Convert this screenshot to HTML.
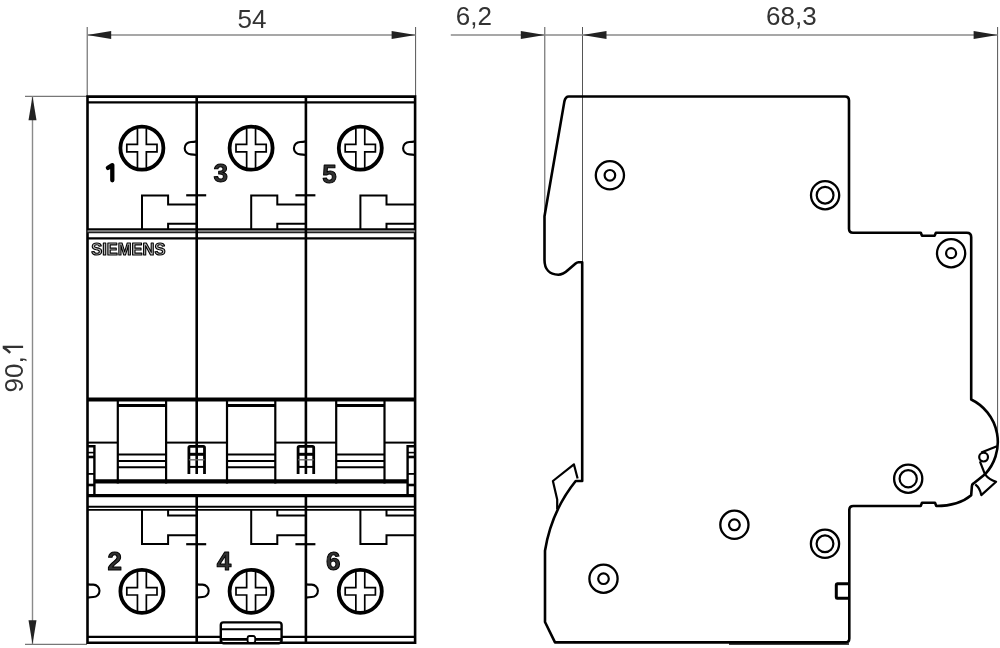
<!DOCTYPE html>
<html><head><meta charset="utf-8"><style>
html,body{margin:0;padding:0;background:#fff;width:1000px;height:648px;overflow:hidden}
svg{display:block}
svg{will-change:transform}
text{font-family:"Liberation Sans",sans-serif}
</style></head><body>
<svg width="1000" height="648" viewBox="0 0 1000 648">
<line x1="87.20" y1="27.00" x2="87.20" y2="96.00" stroke="#555" stroke-width="1" stroke-linecap="butt"/>
<line x1="415.60" y1="27.00" x2="415.60" y2="96.00" stroke="#555" stroke-width="1" stroke-linecap="butt"/>
<line x1="87.20" y1="35.00" x2="415.60" y2="35.00" stroke="#8a8a8a" stroke-width="1.4" stroke-linecap="butt"/>
<path d="M87.2,35 L111.2,31.1 L111.2,38.9 Z" fill="#222"/>
<path d="M415.6,35 L391.6,31.1 L391.6,38.9 Z" fill="#222"/>
<line x1="544.80" y1="27.00" x2="544.80" y2="216.00" stroke="#555" stroke-width="1" stroke-linecap="butt"/>
<line x1="582.50" y1="27.00" x2="582.50" y2="262.00" stroke="#555" stroke-width="1" stroke-linecap="butt"/>
<line x1="997.60" y1="27.00" x2="997.60" y2="440.00" stroke="#555" stroke-width="1" stroke-linecap="butt"/>
<line x1="450.80" y1="35.00" x2="997.60" y2="35.00" stroke="#8a8a8a" stroke-width="1.4" stroke-linecap="butt"/>
<path d="M544.8,35 L520.8,31.1 L520.8,38.9 Z" fill="#222"/>
<path d="M582.5,35 L606.5,31.1 L606.5,38.9 Z" fill="#222"/>
<path d="M997.6,35 L973.6,31.1 L973.6,38.9 Z" fill="#222"/>
<line x1="25.00" y1="96.30" x2="87.00" y2="96.30" stroke="#555" stroke-width="1" stroke-linecap="butt"/>
<line x1="25.00" y1="644.30" x2="87.00" y2="644.30" stroke="#555" stroke-width="1" stroke-linecap="butt"/>
<line x1="32.50" y1="96.30" x2="32.50" y2="644.30" stroke="#8a8a8a" stroke-width="1.4" stroke-linecap="butt"/>
<path d="M32.5,96.3 L28.5,120.3 L36.5,120.3 Z" fill="#222"/>
<path d="M32.5,644.3 L28.5,620.3 L36.5,620.3 Z" fill="#222"/>
<text x="252" y="28.4" font-size="26" fill="#333" text-anchor="middle" font-family="Liberation Sans">54</text>
<text x="473.8" y="25.2" font-size="26" fill="#333" text-anchor="middle" font-family="Liberation Sans">6,2</text>
<text x="791.4" y="25.2" font-size="26" fill="#333" text-anchor="middle" font-family="Liberation Sans">68,3</text>
<text transform="translate(23.1,392.4) rotate(-90)" x="0" y="0" font-size="26" fill="#333" font-family="Liberation Sans">90,</text>
<path d="M10.2,352.9 Q7,349.6 3.9,347.9 L3.9,346.9 H23.1" stroke="#333" stroke-width="2.4" fill="none" stroke-linejoin="miter"/>
<path d="M87.5,96.6 H415.1 V642.8 H87.5 Z" stroke="#000" stroke-width="2.6" fill="none" stroke-linejoin="miter"/>
<line x1="87.50" y1="102.30" x2="415.10" y2="102.30" stroke="#000" stroke-width="2.2" stroke-linecap="butt"/>
<line x1="87.50" y1="229.30" x2="415.10" y2="229.30" stroke="#000" stroke-width="2.2" stroke-linecap="butt"/>
<rect x="87.5" y="230.2" width="327.6" height="2" fill="#777"/>
<line x1="87.50" y1="232.70" x2="415.10" y2="232.70" stroke="#222" stroke-width="1.2" stroke-linecap="butt"/>
<line x1="87.50" y1="238.40" x2="415.10" y2="238.40" stroke="#000" stroke-width="2.4" stroke-linecap="butt"/>
<line x1="87.50" y1="399.60" x2="415.10" y2="399.60" stroke="#000" stroke-width="4.0" stroke-linecap="butt"/>
<line x1="94.30" y1="481.30" x2="407.60" y2="481.30" stroke="#000" stroke-width="4.2" stroke-linecap="butt"/>
<line x1="87.50" y1="495.60" x2="415.10" y2="495.60" stroke="#000" stroke-width="3.4" stroke-linecap="butt"/>
<line x1="87.50" y1="506.80" x2="415.10" y2="506.80" stroke="#000" stroke-width="1.9" stroke-linecap="butt"/>
<line x1="87.50" y1="509.90" x2="415.10" y2="509.90" stroke="#000" stroke-width="1.8" stroke-linecap="butt"/>
<line x1="87.50" y1="636.90" x2="415.10" y2="636.90" stroke="#000" stroke-width="2.2" stroke-linecap="butt"/>
<line x1="196.70" y1="96.00" x2="196.70" y2="474.00" stroke="#000" stroke-width="2.6" stroke-linecap="butt"/>
<line x1="196.70" y1="495.50" x2="196.70" y2="642.50" stroke="#000" stroke-width="2.6" stroke-linecap="butt"/>
<line x1="305.90" y1="96.00" x2="305.90" y2="474.00" stroke="#000" stroke-width="2.6" stroke-linecap="butt"/>
<line x1="305.90" y1="495.50" x2="305.90" y2="642.50" stroke="#000" stroke-width="2.6" stroke-linecap="butt"/>
<circle cx="141.90" cy="148.10" r="21.50" stroke="#000" stroke-width="3.8" fill="none"/>
<path d="M137.45,128.30 V144.40 H126.80 V151.80 H137.45 V167.90 M146.35,128.30 V144.40 H157.00 V151.80 H146.35 V167.90" stroke="#000" stroke-width="1.7" fill="none" stroke-linejoin="miter"/>
<path d="M196.7,141.4 Q193.7,142 190.89999999999998,142 A6.2 6.2 0 0 0 190.89999999999998,154.4 Q193.7,154.4 196.7,155" stroke="#000" stroke-width="2.1" fill="none" stroke-linejoin="miter"/>
<path d="M142.0,229 V195.6 H168.1 V204.4 H196.7" stroke="#000" stroke-width="2" fill="none" stroke-linejoin="miter"/>
<path d="M168.1,229 V223.8 H196.7" stroke="#000" stroke-width="2" fill="none" stroke-linejoin="miter"/>
<line x1="186.20" y1="195.30" x2="206.20" y2="195.30" stroke="#000" stroke-width="2.2" stroke-linecap="butt"/>
<circle cx="141.90" cy="591.30" r="21.50" stroke="#000" stroke-width="3.8" fill="none"/>
<path d="M137.45,571.50 V587.60 H126.80 V595.00 H137.45 V611.10 M146.35,571.50 V587.60 H157.00 V595.00 H146.35 V611.10" stroke="#000" stroke-width="1.7" fill="none" stroke-linejoin="miter"/>
<path d="M87.5,584.4 Q90.5,584.6 93.3,584.6 A6.2 6.2 0 0 1 93.3,597 Q90.5,597 87.5,597.6" stroke="#000" stroke-width="2.1" fill="none" stroke-linejoin="miter"/>
<path d="M142.0,509.5 V544 H168.1 V535.2 H196.7" stroke="#000" stroke-width="2" fill="none" stroke-linejoin="miter"/>
<path d="M168.1,509.5 V515.6 H196.7" stroke="#000" stroke-width="2" fill="none" stroke-linejoin="miter"/>
<line x1="117.80" y1="401.00" x2="117.80" y2="483.50" stroke="#000" stroke-width="2.2" stroke-linecap="butt"/>
<line x1="166.10" y1="401.00" x2="166.10" y2="483.50" stroke="#000" stroke-width="2.2" stroke-linecap="butt"/>
<line x1="117.80" y1="405.50" x2="166.10" y2="405.50" stroke="#000" stroke-width="3.0" stroke-linecap="butt"/>
<line x1="117.80" y1="454.40" x2="166.10" y2="454.40" stroke="#000" stroke-width="2.0" stroke-linecap="butt"/>
<line x1="117.80" y1="461.00" x2="166.10" y2="461.00" stroke="#000" stroke-width="2.0" stroke-linecap="butt"/>
<line x1="117.80" y1="467.30" x2="166.10" y2="467.30" stroke="#000" stroke-width="2.0" stroke-linecap="butt"/>
<line x1="87.50" y1="442.60" x2="117.80" y2="442.60" stroke="#000" stroke-width="2.0" stroke-linecap="butt"/>
<line x1="166.10" y1="442.60" x2="196.70" y2="442.60" stroke="#000" stroke-width="2.0" stroke-linecap="butt"/>
<circle cx="251.10" cy="148.10" r="21.50" stroke="#000" stroke-width="3.8" fill="none"/>
<path d="M246.65,128.30 V144.40 H236.00 V151.80 H246.65 V167.90 M255.55,128.30 V144.40 H266.20 V151.80 H255.55 V167.90" stroke="#000" stroke-width="1.7" fill="none" stroke-linejoin="miter"/>
<path d="M305.9,141.4 Q302.9,142 300.09999999999997,142 A6.2 6.2 0 0 0 300.09999999999997,154.4 Q302.9,154.4 305.9,155" stroke="#000" stroke-width="2.1" fill="none" stroke-linejoin="miter"/>
<path d="M251.2,229 V195.6 H277.29999999999995 V204.4 H305.9" stroke="#000" stroke-width="2" fill="none" stroke-linejoin="miter"/>
<path d="M277.29999999999995,229 V223.8 H305.9" stroke="#000" stroke-width="2" fill="none" stroke-linejoin="miter"/>
<line x1="295.40" y1="195.30" x2="315.40" y2="195.30" stroke="#000" stroke-width="2.2" stroke-linecap="butt"/>
<circle cx="251.10" cy="591.30" r="21.50" stroke="#000" stroke-width="3.8" fill="none"/>
<path d="M246.65,571.50 V587.60 H236.00 V595.00 H246.65 V611.10 M255.55,571.50 V587.60 H266.20 V595.00 H255.55 V611.10" stroke="#000" stroke-width="1.7" fill="none" stroke-linejoin="miter"/>
<path d="M196.7,584.4 Q199.7,584.6 202.5,584.6 A6.2 6.2 0 0 1 202.5,597 Q199.7,597 196.7,597.6" stroke="#000" stroke-width="2.1" fill="none" stroke-linejoin="miter"/>
<path d="M251.2,509.5 V544 H277.29999999999995 V535.2 H305.9" stroke="#000" stroke-width="2" fill="none" stroke-linejoin="miter"/>
<path d="M277.29999999999995,509.5 V515.6 H305.9" stroke="#000" stroke-width="2" fill="none" stroke-linejoin="miter"/>
<line x1="186.20" y1="544.20" x2="206.20" y2="544.20" stroke="#000" stroke-width="2.2" stroke-linecap="butt"/>
<line x1="227.00" y1="401.00" x2="227.00" y2="483.50" stroke="#000" stroke-width="2.2" stroke-linecap="butt"/>
<line x1="275.30" y1="401.00" x2="275.30" y2="483.50" stroke="#000" stroke-width="2.2" stroke-linecap="butt"/>
<line x1="227.00" y1="405.50" x2="275.30" y2="405.50" stroke="#000" stroke-width="3.0" stroke-linecap="butt"/>
<line x1="227.00" y1="454.40" x2="275.30" y2="454.40" stroke="#000" stroke-width="2.0" stroke-linecap="butt"/>
<line x1="227.00" y1="461.00" x2="275.30" y2="461.00" stroke="#000" stroke-width="2.0" stroke-linecap="butt"/>
<line x1="227.00" y1="467.30" x2="275.30" y2="467.30" stroke="#000" stroke-width="2.0" stroke-linecap="butt"/>
<line x1="196.70" y1="442.60" x2="227.00" y2="442.60" stroke="#000" stroke-width="2.0" stroke-linecap="butt"/>
<line x1="275.30" y1="442.60" x2="305.90" y2="442.60" stroke="#000" stroke-width="2.0" stroke-linecap="butt"/>
<circle cx="360.30" cy="148.10" r="21.50" stroke="#000" stroke-width="3.8" fill="none"/>
<path d="M355.85,128.30 V144.40 H345.20 V151.80 H355.85 V167.90 M364.75,128.30 V144.40 H375.40 V151.80 H364.75 V167.90" stroke="#000" stroke-width="1.7" fill="none" stroke-linejoin="miter"/>
<path d="M415.09999999999997,141.4 Q412.09999999999997,142 409.29999999999995,142 A6.2 6.2 0 0 0 409.29999999999995,154.4 Q412.09999999999997,154.4 415.09999999999997,155" stroke="#000" stroke-width="2.1" fill="none" stroke-linejoin="miter"/>
<path d="M360.4,229 V195.6 H386.5 V204.4 H415.09999999999997" stroke="#000" stroke-width="2" fill="none" stroke-linejoin="miter"/>
<path d="M386.5,229 V223.8 H415.09999999999997" stroke="#000" stroke-width="2" fill="none" stroke-linejoin="miter"/>
<circle cx="360.30" cy="591.30" r="21.50" stroke="#000" stroke-width="3.8" fill="none"/>
<path d="M355.85,571.50 V587.60 H345.20 V595.00 H355.85 V611.10 M364.75,571.50 V587.60 H375.40 V595.00 H364.75 V611.10" stroke="#000" stroke-width="1.7" fill="none" stroke-linejoin="miter"/>
<path d="M305.9,584.4 Q308.9,584.6 311.7,584.6 A6.2 6.2 0 0 1 311.7,597 Q308.9,597 305.9,597.6" stroke="#000" stroke-width="2.1" fill="none" stroke-linejoin="miter"/>
<path d="M360.4,509.5 V544 H386.5 V535.2 H415.09999999999997" stroke="#000" stroke-width="2" fill="none" stroke-linejoin="miter"/>
<path d="M386.5,509.5 V515.6 H415.09999999999997" stroke="#000" stroke-width="2" fill="none" stroke-linejoin="miter"/>
<line x1="295.40" y1="544.20" x2="315.40" y2="544.20" stroke="#000" stroke-width="2.2" stroke-linecap="butt"/>
<line x1="336.20" y1="401.00" x2="336.20" y2="483.50" stroke="#000" stroke-width="2.2" stroke-linecap="butt"/>
<line x1="384.50" y1="401.00" x2="384.50" y2="483.50" stroke="#000" stroke-width="2.2" stroke-linecap="butt"/>
<line x1="336.20" y1="405.50" x2="384.50" y2="405.50" stroke="#000" stroke-width="3.0" stroke-linecap="butt"/>
<line x1="336.20" y1="454.40" x2="384.50" y2="454.40" stroke="#000" stroke-width="2.0" stroke-linecap="butt"/>
<line x1="336.20" y1="461.00" x2="384.50" y2="461.00" stroke="#000" stroke-width="2.0" stroke-linecap="butt"/>
<line x1="336.20" y1="467.30" x2="384.50" y2="467.30" stroke="#000" stroke-width="2.0" stroke-linecap="butt"/>
<line x1="305.90" y1="442.60" x2="336.20" y2="442.60" stroke="#000" stroke-width="2.0" stroke-linecap="butt"/>
<line x1="384.50" y1="442.60" x2="415.10" y2="442.60" stroke="#000" stroke-width="2.0" stroke-linecap="butt"/>
<path d="M188.89999999999998,474 V447.6 Q188.89999999999998,446.4 190.1,446.4 H203.29999999999998 Q204.5,446.4 204.5,447.6 V474" stroke="#000" stroke-width="2.8" fill="none" stroke-linejoin="miter"/>
<line x1="188.90" y1="454.30" x2="204.50" y2="454.30" stroke="#000" stroke-width="3.0" stroke-linecap="butt"/>
<line x1="188.90" y1="459.80" x2="204.50" y2="459.80" stroke="#666" stroke-width="1.3" stroke-linecap="butt"/>
<line x1="188.90" y1="466.90" x2="204.50" y2="466.90" stroke="#000" stroke-width="2.0" stroke-linecap="butt"/>
<path d="M298.09999999999997,474 V447.6 Q298.09999999999997,446.4 299.29999999999995,446.4 H312.5 Q313.7,446.4 313.7,447.6 V474" stroke="#000" stroke-width="2.8" fill="none" stroke-linejoin="miter"/>
<line x1="298.10" y1="454.30" x2="313.70" y2="454.30" stroke="#000" stroke-width="3.0" stroke-linecap="butt"/>
<line x1="298.10" y1="459.80" x2="313.70" y2="459.80" stroke="#666" stroke-width="1.3" stroke-linecap="butt"/>
<line x1="298.10" y1="466.90" x2="313.70" y2="466.90" stroke="#000" stroke-width="2.0" stroke-linecap="butt"/>
<path d="M87.5,446.3 H94.4 V494" stroke="#000" stroke-width="2.4" fill="none" stroke-linejoin="miter"/>
<line x1="87.50" y1="452.60" x2="94.40" y2="452.60" stroke="#000" stroke-width="1.6" stroke-linecap="butt"/>
<line x1="87.50" y1="457.00" x2="94.40" y2="457.00" stroke="#000" stroke-width="2.6" stroke-linecap="butt"/>
<line x1="87.50" y1="473.90" x2="94.40" y2="473.90" stroke="#000" stroke-width="1.8" stroke-linecap="butt"/>
<line x1="87.50" y1="485.00" x2="94.40" y2="485.00" stroke="#000" stroke-width="2.6" stroke-linecap="butt"/>
<path d="M415.1,446.3 H407.6 V494" stroke="#000" stroke-width="2.4" fill="none" stroke-linejoin="miter"/>
<line x1="407.60" y1="452.60" x2="415.10" y2="452.60" stroke="#000" stroke-width="1.6" stroke-linecap="butt"/>
<line x1="407.60" y1="457.00" x2="415.10" y2="457.00" stroke="#000" stroke-width="2.6" stroke-linecap="butt"/>
<line x1="407.60" y1="473.90" x2="415.10" y2="473.90" stroke="#000" stroke-width="1.8" stroke-linecap="butt"/>
<line x1="407.60" y1="485.00" x2="415.10" y2="485.00" stroke="#000" stroke-width="2.6" stroke-linecap="butt"/>
<path d="M107.9,167.9 L112.3,165.2 V180.3" stroke="#000" stroke-width="4.3" fill="none" stroke-linejoin="round" stroke-linecap="round"/>
<text x="220.7" y="182.2" font-size="26" font-weight="bold" fill="#333" stroke="#000" stroke-width="1.0" stroke-linejoin="round" text-anchor="middle" font-family="Liberation Sans">3</text>
<text x="329.5" y="182.6" font-size="26" font-weight="bold" fill="#333" stroke="#000" stroke-width="1.0" stroke-linejoin="round" text-anchor="middle" font-family="Liberation Sans">5</text>
<text x="114.8" y="570.0" font-size="26" font-weight="bold" fill="#333" stroke="#000" stroke-width="1.0" stroke-linejoin="round" text-anchor="middle" font-family="Liberation Sans">2</text>
<text x="224.0" y="570.0" font-size="26" font-weight="bold" fill="#333" stroke="#000" stroke-width="1.0" stroke-linejoin="round" text-anchor="middle" font-family="Liberation Sans">4</text>
<text x="333.2" y="570.0" font-size="26" font-weight="bold" fill="#333" stroke="#000" stroke-width="1.0" stroke-linejoin="round" text-anchor="middle" font-family="Liberation Sans">6</text>
<text x="91.2" y="254.6" font-size="16.2" font-weight="bold" fill="#bbb" stroke="#000" stroke-width="1.1" stroke-linejoin="round" textLength="74.2" lengthAdjust="spacingAndGlyphs" font-family="Liberation Sans">SIEMENS</text>
<rect x="220.8" y="622.4" width="60.8" height="20.8" rx="2.6" fill="#fff" stroke="#000" stroke-width="2.4"/>
<line x1="221.50" y1="629.20" x2="281.00" y2="629.20" stroke="#000" stroke-width="2.0" stroke-linecap="butt"/>
<line x1="221.50" y1="639.30" x2="281.00" y2="639.30" stroke="#000" stroke-width="2.8" stroke-linecap="butt"/>
<rect x="247.6" y="636" width="7.6" height="7" rx="2" fill="#fff" stroke="#000" stroke-width="1.8"/>
<path d="M568.8,96.5 H845 Q849,96.5 849,100.5 V228.8 Q849,232.8 853,232.8 H920.8 L922,235.8 H934.6 L935.9,232.8 H966.8 Q971.2,232.8 971.2,237.2 V399.5 A47.2 47.2 0 0 1 985,474.3 L973.5,483.4 Q972,484.5 971.9,486 L971.2,495.2 C962,503 950,506 936.3,506 L935,502.8 H922 L920.7,506 H853.3 Q849.3,506 849.3,510 V638.5 Q849.3,642.4 845.3,642.4 H555 L545,622 V550.7 C550,520 562,498 575.7,481 H582.2 V262.2 H578.5 Q577,262.2 575.6,263.4 L568,270 C565,272.8 562,274.7 558.3,274.7 C549.5,274.7 544.5,269 544.5,260 V216.3 L564.4,101.4 Q565.5,96.5 568.8,96.5 H572" stroke="#000" stroke-width="2.6" fill="none" stroke-linejoin="round"/>
<path d="M997,446.2 L981.2,452.6" stroke="#000" stroke-width="2.2" fill="none" stroke-linejoin="miter"/>
<circle cx="983.60" cy="457.10" r="4.40" stroke="#000" stroke-width="2.2" fill="none"/>
<path d="M979.9,461.3 L985,474.3" stroke="#000" stroke-width="2.2" fill="none" stroke-linejoin="miter"/>
<path d="M985,474.3 Q989,479.5 996.1,481.7 L981.3,495.1 Q980,488 975.3,484.4" stroke="#000" stroke-width="2.2" fill="none" stroke-linejoin="round"/>
<path d="M557.2,509.3 V499.4 L552.9,481 L573.9,464.3 L577.6,478.5" stroke="#000" stroke-width="2.2" fill="none" stroke-linejoin="round"/>
<circle cx="609.90" cy="175.30" r="14.10" stroke="#000" stroke-width="2.3" fill="none"/>
<circle cx="609.90" cy="175.30" r="5.30" stroke="#000" stroke-width="2.2" fill="none"/>
<circle cx="825.10" cy="195.20" r="14.10" stroke="#000" stroke-width="2.3" fill="none"/>
<circle cx="825.10" cy="195.20" r="8.40" stroke="#000" stroke-width="2.2" fill="none"/>
<circle cx="951.10" cy="253.20" r="14.10" stroke="#000" stroke-width="2.3" fill="none"/>
<circle cx="951.10" cy="253.20" r="5.00" stroke="#000" stroke-width="2.2" fill="none"/>
<circle cx="908.20" cy="478.70" r="14.10" stroke="#000" stroke-width="2.3" fill="none"/>
<circle cx="908.20" cy="478.70" r="8.60" stroke="#000" stroke-width="2.2" fill="none"/>
<circle cx="734.40" cy="524.80" r="14.10" stroke="#000" stroke-width="2.3" fill="none"/>
<circle cx="734.40" cy="524.80" r="5.40" stroke="#000" stroke-width="2.2" fill="none"/>
<circle cx="825.00" cy="543.80" r="14.10" stroke="#000" stroke-width="2.3" fill="none"/>
<circle cx="825.00" cy="543.80" r="8.40" stroke="#000" stroke-width="2.2" fill="none"/>
<circle cx="603.50" cy="578.70" r="14.10" stroke="#000" stroke-width="2.3" fill="none"/>
<circle cx="603.50" cy="578.70" r="5.30" stroke="#000" stroke-width="2.2" fill="none"/>
<line x1="729.00" y1="644.00" x2="849.00" y2="644.00" stroke="#000" stroke-width="1.6" stroke-linecap="butt"/>
<path d="M849,583.8 H837.2 Q836.3,583.8 836.3,584.8 V597.2 Q836.3,598.2 837.2,598.2 H849" stroke="#000" stroke-width="3.0" fill="none" stroke-linejoin="miter"/>
</svg>
</body></html>
